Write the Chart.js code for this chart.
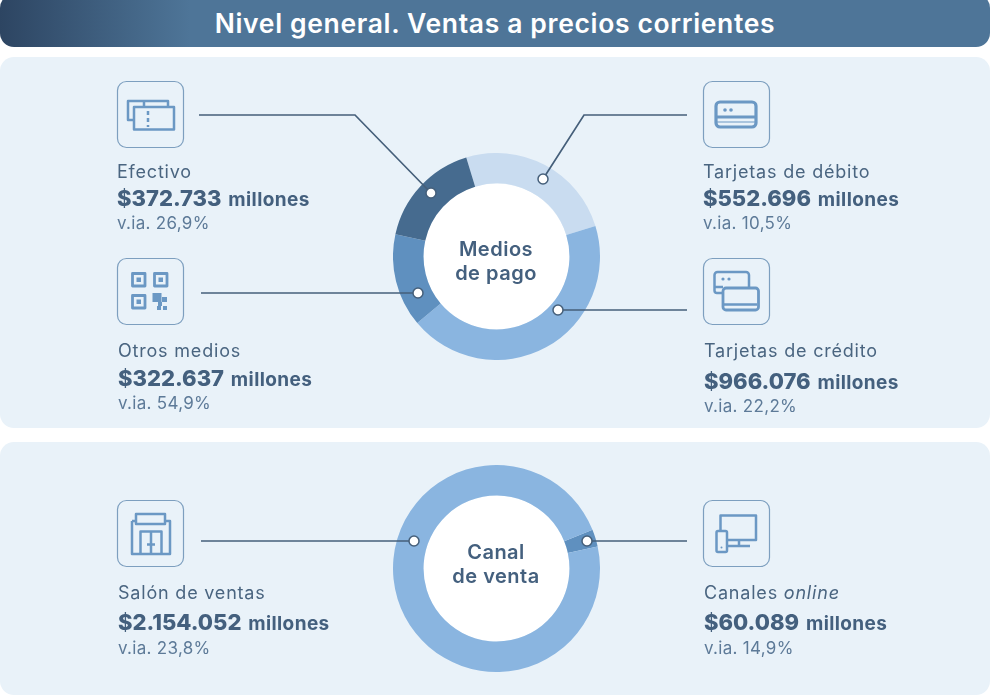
<!DOCTYPE html>
<html lang="es">
<head>
<meta charset="utf-8">
<title>Nivel general. Ventas a precios corrientes</title>
<script src="https://cdn.jsdelivr.net/npm/chart.js@4"></script>
<style>
  html, body { margin: 0; padding: 0; background: #fff; }
  body { width: 990px; height: 695px; position: relative; overflow: hidden; font-family: Inter, sans-serif; color: #4a6580; }
  .cabecera { position: absolute; left: 0; top: -6px; width: 990px; height: 53px; border-radius: 14px;
    background: linear-gradient(90deg, #2d4562 0, #4e7598 190px, #4e7598 100%);
    color: #fff; font-size: 26.5px; font-weight: 600; letter-spacing: .65px; text-align: center; line-height: 59px; }
  .panel { position: absolute; left: 0; width: 990px; background: #e9f2f9; border-radius: 14px; }
  canvas { position: absolute; }
  svg { position: absolute; left: 0; top: 0; }
  .centro { position: absolute; left: 396px; width: 200px; text-align: center; font-size: 20px; font-weight: 600; letter-spacing: .5px; line-height: 24px; color: #44607e; }
  .nombre, .valor, .via { position: absolute; white-space: nowrap; line-height: 24px; height: 24px; }
  .nombre { font-size: 18px; letter-spacing: .8px; }
  .valor { font-size: 22px; font-weight: 800; color: #44607e; }
  .valor span { font-size: 19px; font-weight: 700; letter-spacing: .4px; margin-left: 2px; }
  .via { font-size: 17px; letter-spacing: .3px; color: #5d7a98; }
</style>
</head>
<body>
<div class="cabecera">Nivel general. Ventas a precios corrientes</div>
<div class="panel" style="top:57px;height:371px"></div>
<div class="panel" style="top:442px;height:253px"></div>

<canvas id="medios_pago" width="207" height="207" style="left:393px;top:153px"></canvas>
<canvas id="canal_venta" width="207" height="207" style="left:393px;top:465px"></canvas>

<svg id="trazos" width="990" height="695"></svg>

<div class="centro" style="top:237px">Medios<br>de pago</div>
<div class="centro" style="top:540px">Canal<br>de venta</div>

<script>
// medios de pago, en millones de pesos
const mediosNombres = ["Tarjetas de débito", "Tarjetas de crédito", "Otros medios", "Efectivo"];
const mediosValores = [552696, 966076, 322637, 372733];
const mediosVia = ["10,5", "22,2", "54,9", "26,9"];
const mediosColores = ["#c9dcf0", "#8ab5e0", "#5f90bf", "#466b8f"];

// canal de venta
const canalNombres = ["Canales <i>online</i>", "Salón de ventas"];
const canalValores = [60089, 2154052];
const canalVia = ["14,9", "23,8"];
const canalColores = ["#5f90bf", "#8ab5e0"];

const COLOR_ICONO = "#6b98c4";
const COLOR_LINEA = "#455f7a";

// circulo blanco en el hueco de la dona
const huecoBlanco = {
  id: "huecoBlanco",
  beforeDatasetsDraw(chart) {
    const arco = chart.getDatasetMeta(0).data[0];
    const ctx = chart.ctx;
    ctx.save();
    ctx.fillStyle = "#fff";
    ctx.beginPath();
    ctx.arc(arco.x, arco.y, arco.innerRadius, 0, Math.PI * 2);
    ctx.fill();
    ctx.restore();
  }
};

function crearDona(id, nombres, valores, colores, giro) {
  return new Chart(document.getElementById(id), {
    type: "doughnut",
    data: {
      labels: nombres,
      datasets: [{ data: valores, backgroundColor: colores, borderWidth: 0 }]
    },
    options: {
      responsive: false,
      animation: false,
      cutout: "70.5%",
      rotation: giro,
      plugins: { legend: { display: false }, tooltip: { enabled: false } }
    },
    plugins: [huecoBlanco]
  });
}

crearDona("medios_pago", mediosNombres, mediosValores, mediosColores, -17);
crearDona("canal_venta", canalNombres, canalValores, canalColores, 68);

// dibujos de cada recuadro, en coordenadas locales de 67x67
const iconos = {
  efectivo: `<path d="M17 39H11V20H51V26M27 20V26"/><rect x="17" y="26" width="40" height="22.5"/><path d="M31 30v4M31 37v4M31 44v2"/>`,
  debito: `<rect x="13" y="21" width="40" height="25" rx="4" stroke-width="3.2"/><path d="M13 36H53" stroke-width="3"/><path d="M13 41H53" stroke-width="2" opacity=".5"/><circle cx="22" cy="29" r="1.8" fill="${COLOR_ICONO}" stroke="none"/><circle cx="28" cy="29" r="1.8" fill="${COLOR_ICONO}" stroke="none"/>`,
  otros: `<rect x="15.500" y="15.500" width="12.500" height="12.500" stroke-width="2.800"/><rect x="37.500" y="15.500" width="12.500" height="12.500" stroke-width="2.800"/><rect x="15.500" y="37.500" width="12.500" height="12.500" stroke-width="2.800"/><g fill="${COLOR_ICONO}" stroke="none"><rect x="19.500" y="19.500" width="4.500" height="4.500"/><rect x="41.500" y="19.500" width="4.500" height="4.500"/><rect x="19.500" y="41.500" width="4.500" height="4.500"/><rect x="35.500" y="35" width="9" height="9"/><rect x="45" y="39" width="5" height="5"/><rect x="41" y="44" width="4" height="4"/><rect x="40" y="48" width="4" height="4"/><rect x="46" y="48" width="4" height="4"/></g>`,
  credito: `<path d="M20 35H14a2.500 2.500 0 0 1-2.500-2.500V17a3 3 0 0 1 3-3H43a3 3 0 0 1 3 3V30"/><rect x="20" y="30" width="35.500" height="22" rx="3" stroke-width="2.800"/><path d="M11.500 29H20M21 46.500H54" /><circle cx="20" cy="21" r="1.600" fill="${COLOR_ICONO}" stroke="none"/><circle cx="26" cy="21" r="1.600" fill="${COLOR_ICONO}" stroke="none"/>`,
  salon: `<path d="M15 21V54H53V21H48M15 21H19"/><rect x="19" y="14" width="29" height="10"/><path d="M23.500 54V31.500H44.500V54M34 31.500V54M30 44.500H38"/>`,
  online: `<path d="M17.500 31V15.500H53V40H24"/><rect x="13.500" y="31" width="10.500" height="21" rx="1.500"/><path d="M24 46H47M36 40V46"/><circle cx="18.500" cy="47.500" r="1" fill="${COLOR_ICONO}" stroke="none"/>`
};

// recuadros de icono
function recuadro(x, y, forma) {
  return `<g transform="translate(${x} ${y})" fill="none" stroke-linejoin="round">
    <rect x="0.500" y="0.500" width="66" height="66" rx="9" stroke="#7d9fbf" stroke-width="1.200"/>
    <g stroke="${COLOR_ICONO}" stroke-width="2.500">${forma}</g></g>`;
}

function trazo(d, px, py) {
  return `<path d="${d}" fill="none" stroke="${COLOR_LINEA}" stroke-width="1.700"/>
    <circle cx="${px}" cy="${py}" r="5" fill="#fff" stroke="${COLOR_LINEA}" stroke-width="1.500"/>`;
}

document.getElementById("trazos").innerHTML =
  recuadro(117, 81, iconos.efectivo) +
  recuadro(703, 81, iconos.debito) +
  recuadro(117, 258, iconos.otros) +
  recuadro(703, 258, iconos.credito) +
  recuadro(117, 500, iconos.salon) +
  recuadro(703, 500, iconos.online) +
  trazo("M199 115H355L431 193", 431, 193) +
  trazo("M687 115H584L543 179", 543, 179) +
  trazo("M201 293H418", 418, 293) +
  trazo("M687 310H558", 558, 310) +
  trazo("M201 541H414", 414, 541) +
  trazo("M687 541H587", 587, 541);

// textos de cada medio o canal
function ficha(nombre, valor, via, x, y1, y2, y3) {
  const importe = valor.toLocaleString("es-AR");
  const html = `<div class="nombre" style="left:${x}px;top:${y1 - 12}px">${nombre}</div>
    <div class="valor" style="left:${x}px;top:${y2 - 12}px">$${importe} <span>millones</span></div>
    <div class="via" style="left:${x}px;top:${y3 - 12}px">v.ia. ${via}%</div>`;
  document.body.insertAdjacentHTML("beforeend", html);
}

ficha(mediosNombres[3], mediosValores[3], mediosVia[3], 117, 172, 198, 223);
ficha(mediosNombres[0], mediosValores[0], mediosVia[0], 703, 172, 198, 223);
ficha(mediosNombres[2], mediosValores[2], mediosVia[2], 118, 351, 378, 403);
ficha(mediosNombres[1], mediosValores[1], mediosVia[1], 704, 351, 381, 406);
ficha(canalNombres[1], canalValores[1], canalVia[1], 118, 593, 622, 648);
ficha(canalNombres[0], canalValores[0], canalVia[0], 704, 593, 622, 648);
</script>
</body>
</html>
